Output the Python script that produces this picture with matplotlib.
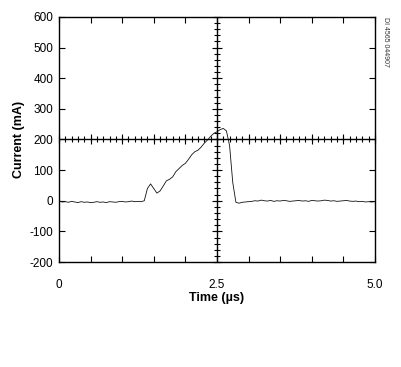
import numpy as np
import matplotlib
matplotlib.use("Agg")
import matplotlib.pyplot as plt

plt.rcParams['font.family'] = ['Liberation Sans', 'DejaVu Sans']
plt.rcParams['axes.unicode_minus'] = False

time_us = np.round(np.arange(0, 5.0001, 0.05), 2)
current_ma = [
    0, -4, -3, -5, -2, -4, -6, -3, -5, -4, -6, -5, -3, -5, -4, -6, -3, -4,
    -5, -3, -2, -4, -3, -1, -3, -2, -3,
    0, 40, 55, 40, 25, 32, 48, 65, 70, 78, 95, 105, 115, 122, 135, 150, 160,
    165, 175, 188, 198, 210, 220, 225, 232, 236, 228, 180, 60, -5, -8, -5,
    -4, -3, -2, 0, -1, 2, 0, -1, 1, -2, 0, -1, 1, 0, -2, -1, 0, 1, -1, 0, -2,
    1, 0, -1, 0, 2, 1, -1, 0, -2, -1, 0, 1, -1, -2, -1, -3, -2, -4, -3, -4, -3,
]
y_ticks = [-200, -100, 0, 100, 200, 300, 400, 500, 600]
x_ticklabels = {0.0: "0", 2.5: "2.5", 5.0: "5.0"}

fig = plt.figure(figsize=(4.01, 3.67), dpi=100)
ax = fig.add_axes([0.147, 0.286, 0.788, 0.668])

ax.plot(time_us, current_ma, color='#111111', lw=0.6)

ax.set_xlim(0, 5.0)
ax.set_ylim(-200, 600)

xt = np.arange(0, 5.0001, 0.5)
ax.set_xticks(xt)
ax.set_xticklabels([x_ticklabels.get(round(v, 1), "") for v in xt])
ax.set_yticks(y_ticks)
ax.tick_params(axis='both', direction='in', length=4, width=0.8,
               top=True, right=True, labelsize=8.5)
ax.tick_params(axis='x', pad=12)
ax.tick_params(axis='y', pad=4)
for s in ax.spines.values():
    s.set_linewidth(1.0)

# crosshair
ax.axvline(2.5, color='black', lw=1.0)
ax.axhline(200, color='black', lw=1.0)
minor_x = np.arange(0, 5.0001, 0.1)
major_x = np.arange(0, 5.0001, 0.5)
ax.plot(minor_x, np.full_like(minor_x, 200), ls='none', marker='|', ms=5, mew=0.8, color='black', clip_on=False)
ax.plot(major_x, np.full_like(major_x, 200), ls='none', marker='|', ms=7, mew=0.8, color='black', clip_on=False)
minor_y = np.arange(-200, 600.1, 20)
major_y = np.arange(-200, 600.1, 100)
ax.plot(np.full_like(minor_y, 2.5), minor_y, ls='none', marker='_', ms=5, mew=0.8, color='black', clip_on=False)
ax.plot(np.full_like(major_y, 2.5), major_y, ls='none', marker='_', ms=7, mew=0.8, color='black', clip_on=False)

ax.set_xlabel("Time (µs)", fontsize=9, fontweight='bold', labelpad=1)
ax.set_ylabel("Current (mA)", fontsize=9, fontweight='bold', labelpad=3)

fig.text(0.962, 0.955, "DI 4565 044907", rotation=270, fontsize=5, color='#333333',
         ha='center', va='top')

fig.savefig("out.png", dpi=100)
